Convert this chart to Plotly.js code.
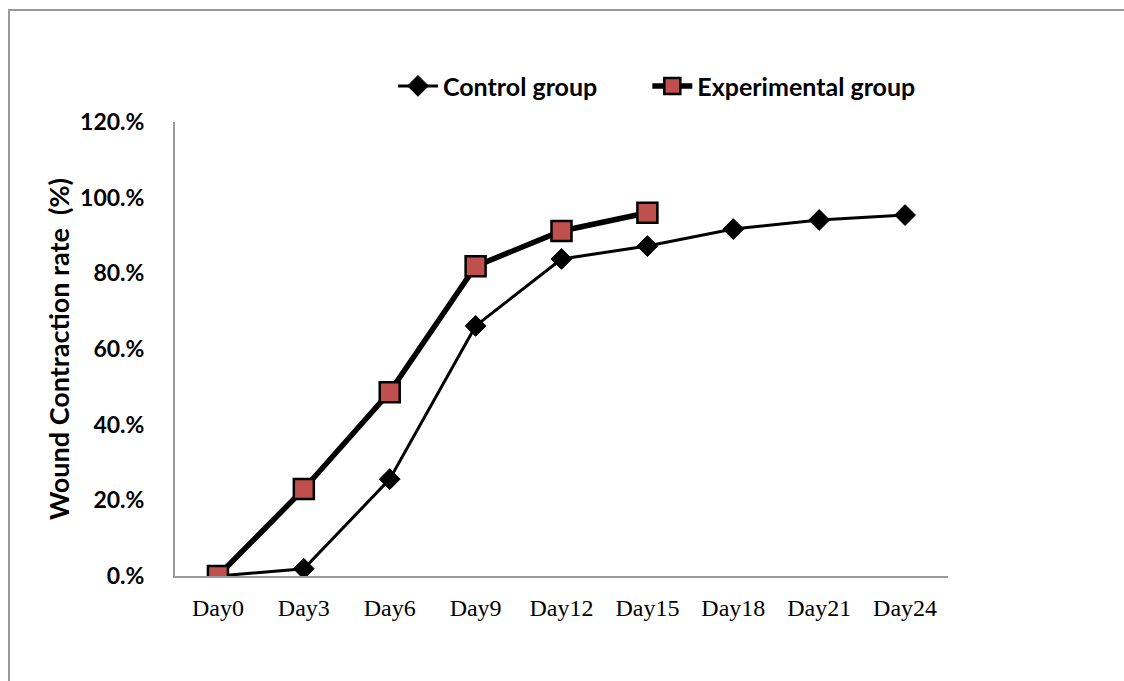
<!DOCTYPE html>
<html>
<head>
<meta charset="utf-8">
<script src="https://cdn.plot.ly/plotly-3.0.1.min.js"></script>
<style>
html,body{margin:0;padding:0;background:#fff;overflow:hidden;}
#frame{position:absolute;left:8px;top:9px;width:1300px;height:900px;border:2px solid #9a9a9a;box-sizing:border-box;}
#chart{position:absolute;left:0;top:0;width:1124px;height:681px;}
</style>
</head>
<body>
<div id="frame"></div>
<div id="chart"></div>
<script>
var days = ["Day0","Day3","Day6","Day9","Day12","Day15","Day18","Day21","Day24"];
var controlGroup = [0, 0.019, 0.256, 0.661, 0.838, 0.872, 0.917, 0.941, 0.954];
var expDays = ["Day0","Day3","Day6","Day9","Day12","Day15"];
var experimentalGroup = [0, 0.23, 0.486, 0.819, 0.912, 0.96];
var yTickVals = [0, 0.2, 0.4, 0.6, 0.8, 1.0, 1.2];
var yTickText = ["0.%", "20.%", "40.%", "60.%", "80.%", "100.%", "120.%"];

var traces = [
  {
    x: days, y: controlGroup, name: "Control group", type: "scatter", mode: "lines+markers",
    legend: "legend",
    line: {color: "#000", width: 3},
    marker: {symbol: "diamond", size: 16, color: "#000", line: {color: "#000", width: 1}}
  },
  {
    x: expDays, y: experimentalGroup, name: "Experimental group", type: "scatter", mode: "lines+markers",
    legend: "legend2",
    line: {color: "#000", width: 5.5},
    marker: {symbol: "square", size: 20, color: "#c0504d", line: {color: "#000", width: 2.5}}
  }
];

var legendFont = {family: "Lato, 'Open Sans', sans-serif", size: 25, color: "#000", weight: "bold"};

var layout = {
  width: 1124, height: 681,
  margin: {l: 175, r: 176, t: 122, b: 105},
  paper_bgcolor: "rgba(0,0,0,0)", plot_bgcolor: "rgba(0,0,0,0)",
  showlegend: true,
  legend: {
    orientation: "h", x: 0.282, xanchor: "left", y: 1.079, yanchor: "middle",
    font: legendFont, itemwidth: 40, bgcolor: "rgba(0,0,0,0)"
  },
  legend2: {
    orientation: "h", x: 0.611, xanchor: "left", y: 1.079, yanchor: "middle",
    font: legendFont, itemwidth: 40, bgcolor: "rgba(0,0,0,0)"
  },
  xaxis: {
    type: "category", categoryorder: "array", categoryarray: days,
    range: [-0.5, 8.5], showline: true, linecolor: "#9a9a9a", linewidth: 2,
    showgrid: false, zeroline: false, ticks: "", ticklabelstandoff: 9,
    tickfont: {family: "'Liberation Serif', 'Times New Roman', serif", size: 24, color: "#000"}
  },
  yaxis: {
    range: [0, 1.2], tickvals: yTickVals, ticktext: yTickText,
    showline: true, linecolor: "#9a9a9a", linewidth: 2,
    showgrid: false, zeroline: false, ticks: "", ticklabelstandoff: 24,
    tickfont: {family: "Lato, 'Open Sans', sans-serif", size: 23, color: "#000", weight: "bold"},
    title: {text: "Wound Contraction rate  (%)", standoff: 3,
      font: {family: "Lato, 'Open Sans', sans-serif", size: 27, color: "#000", weight: "bold"}}
  }
};

Plotly.newPlot("chart", traces, layout, {displayModeBar: false, staticPlot: true});
</script>
</body>
</html>
